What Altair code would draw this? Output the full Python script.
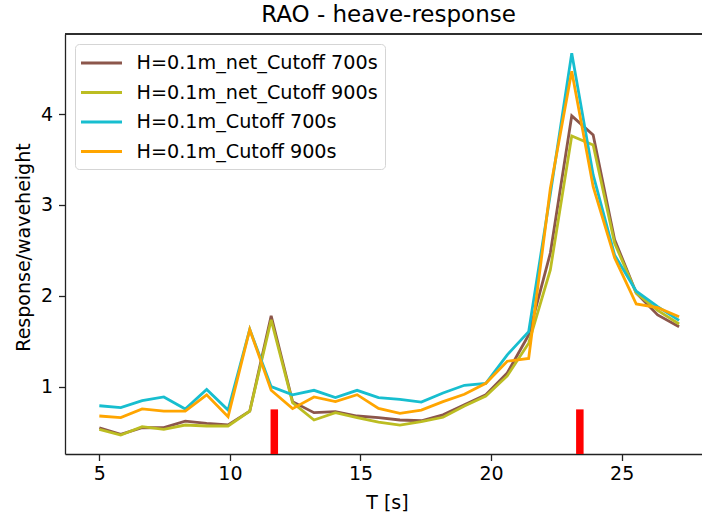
import altair as alt
import pandas as pd

# ---- data ----
T = [5.00, 5.82, 6.64, 7.47, 8.29, 9.11, 9.93, 10.76, 11.58, 12.40, 13.22, 14.04,
     14.87, 15.69, 16.51, 17.33, 18.16, 18.98, 19.80, 20.62, 21.44, 22.27, 23.09,
     23.91, 24.73, 25.56, 26.38, 27.20]

net_700 = [0.548, 0.476, 0.548, 0.55, 0.62, 0.597, 0.58, 0.73, 1.78, 0.835, 0.714, 0.725,
           0.677, 0.66, 0.633, 0.625, 0.69, 0.80, 0.91, 1.15, 1.57, 2.47, 3.98, 3.77,
           2.62, 2.03, 1.79, 1.66]
net_900 = [0.53, 0.468, 0.56, 0.53, 0.578, 0.567, 0.567, 0.73, 1.735, 0.824, 0.633, 0.714,
           0.66, 0.61, 0.578, 0.615, 0.663, 0.787, 0.897, 1.118, 1.478, 2.285, 3.76, 3.66,
           2.58, 2.03, 1.84, 1.69]
cut_700 = [0.79, 0.77, 0.846, 0.887, 0.755, 0.97, 0.743, 1.63, 1.0, 0.91, 0.96, 0.88,
           0.96, 0.88, 0.86, 0.83, 0.93, 1.015, 1.037, 1.35, 1.605, 3.12, 4.67, 3.33,
           2.45, 2.05, 1.88, 1.73]
cut_900 = [0.677, 0.66, 0.755, 0.73, 0.73, 0.91, 0.67, 1.63, 0.96, 0.758, 0.887, 0.835,
           0.912, 0.76, 0.707, 0.743, 0.835, 0.916, 1.037, 1.28, 1.31, 3.18, 4.47, 3.2,
           2.42, 1.91, 1.87, 1.77]

series_names = ["H=0.1m_net_Cutoff 700s", "H=0.1m_net_Cutoff 900s",
                "H=0.1m_Cutoff 700s", "H=0.1m_Cutoff 900s"]
series_values = [net_700, net_900, cut_700, cut_900]
series_colors = ["#8c564b", "#bcbd22", "#17becf", "#ffa500"]

marker_T = [11.7, 23.4]
marker_top = [0.75, 0.75]

x_ticks = [5, 10, 15, 20, 25]
y_ticks = [1, 2, 3, 4]

# ---- tables ----
rows = []
for name, vals in zip(series_names, series_values):
    for t, v in zip(T, vals):
        rows.append({"T": t, "value": v, "series": name})
df = pd.DataFrame(rows)
markers = pd.DataFrame({"T": marker_T, "top": marker_top})

W, H = 637, 420
FONT = "DejaVu Sans"

xscale = alt.Scale(domain=[3.877, 27.886], nice=False, zero=False)
yscale = alt.Scale(domain=[0.259, 4.881], nice=False, zero=False)

lines = alt.Chart(df).mark_line(strokeWidth=2.8, clip=True).encode(
    x=alt.X("T:Q", scale=xscale,
            axis=alt.Axis(values=x_ticks, format="d", title="T [s]",
                          labelPadding=4, titleX=322, titleY=54,
                          titleBaseline="alphabetic")),
    y=alt.Y("value:Q", scale=yscale,
            axis=alt.Axis(values=y_ticks, format="d", title="Response/waveheight",
                          labelPadding=6, titleX=-36, titleY=213,
                          titleBaseline="alphabetic")),
    color=alt.Color("series:N",
                    scale=alt.Scale(domain=series_names, range=series_colors),
                    sort=series_names,
                    legend=alt.Legend(title=None, orient="none", legendX=10, legendY=10,
                                      padding=7, fillColor="white",
                                      strokeColor="#d5d5d5", cornerRadius=4,
                                      symbolType="M-2,0H2", symbolSize=420,
                                      symbolStrokeWidth=2.8, symbolOffset=7.5,
                                      labelOffset=23, rowPadding=6.5,
                                      labelFont=FONT, labelFontSize=19.2,
                                      labelColor="black", labelLimit=400)),
    detail="series:N",
)

bars = alt.Chart(markers).mark_bar(color="#ff0000", size=7.5, clip=True).encode(
    x=alt.X("T:Q", scale=xscale),
    y=alt.Y("top:Q", scale=yscale),
    y2=alt.value(H),
)

top_spine = alt.Chart(markers).mark_rule(color="#222222", strokeWidth=1.3).encode(
    x=alt.value(0), x2=alt.value(W), y=alt.value(0)
)

chart = alt.layer(lines, bars, top_spine).properties(
    width=W, height=H,
    title=alt.TitleParams("RAO - heave-response", font=FONT, fontSize=23,
                          fontWeight="normal", color="black", anchor="middle",
                          dx=5, offset=6),
    autosize=alt.AutoSizeParams(type="none"),
    padding={"left": 65, "top": 34, "right": 0, "bottom": 61},
).configure_view(stroke=None).configure_axis(
    grid=False, domainColor="#222222", domainWidth=1.3, tickColor="#222222",
    tickWidth=1.3, tickSize=6.5, labelFont=FONT, labelFontSize=19,
    labelColor="black", titleFont=FONT, titleFontSize=19, titleFontWeight="normal",
    titleColor="black",
)

chart.save("out.html", embed_options={"renderer": "svg", "actions": False})
